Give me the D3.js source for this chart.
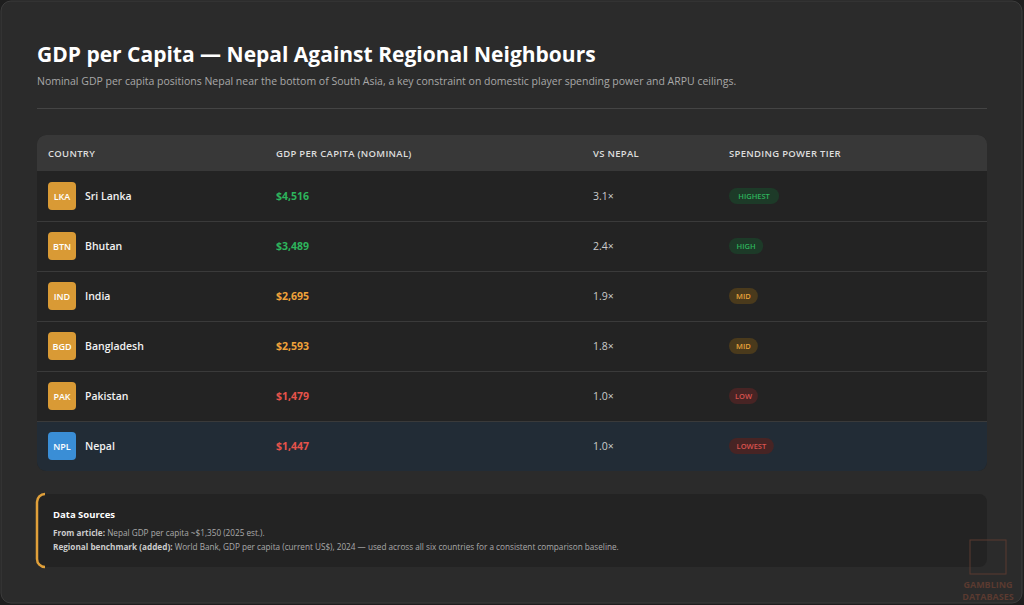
<!DOCTYPE html>
<html><head><meta charset="utf-8">
<script src="https://cdn.jsdelivr.net/npm/d3@7"></script>
<style>html,body{margin:0;padding:0;background:#1e1e1e;}svg{display:block;font-family:"Open Sans","Noto Sans",sans-serif;}</style>
</head><body><svg id="c" width="1024" height="605"></svg>
<script>
const codes=["LKA","BTN","IND","BGD","PAK","NPL"];
const countries=["Sri Lanka","Bhutan","India","Bangladesh","Pakistan","Nepal"];
const gdp=[4516,3489,2695,2593,1479,1447];
const vsNepal=["3.1×","2.4×","1.9×","1.8×","1.0×","1.0×"];
const tiers=["HIGHEST","HIGH","MID","MID","LOW","LOWEST"];
const headers=["COUNTRY","GDP PER CAPITA (NOMINAL)","VS NEPAL","SPENDING POWER TIER"];
const tierColor={HIGHEST:["#2db45c","#1d3a28"],HIGH:["#2db45c","#1d3a28"],MID:["#e8a33a","#4a3a1c"],LOW:["#d9534f","#472424"],LOWEST:["#d9534f","#472424"]};
const valColor=v=>v>3000?"#2db45c":v>2000?"#f0a23a":"#e5534b";

const svg=d3.select("#c");
svg.append("rect").attr("x",1).attr("y",1).attr("width",1021).attr("height",602).attr("rx",10).attr("fill","#2b2b2b").attr("stroke","#3c3c3c");
svg.append("text").attr("x",37).attr("y",62).attr("fill","#fff").attr("font-size",21).attr("font-weight",700).text("GDP per Capita — Nepal Against Regional Neighbours");
svg.append("text").attr("x",37).attr("y",85).attr("fill","#a8a8a8").attr("font-size",10.5).text("Nominal GDP per capita positions Nepal near the bottom of South Asia, a key constraint on domestic player spending power and ARPU ceilings.");
svg.append("line").attr("x1",37).attr("x2",987).attr("y1",108.5).attr("y2",108.5).attr("stroke","#444");

const colX=[48,276,593,729];
const y=d3.scaleBand().domain(d3.range(codes.length)).range([171,471]);
const g=svg.append("g");
g.append("rect").attr("x",37).attr("y",135).attr("width",950).attr("height",336).attr("rx",9).attr("fill","#232323");
g.append("path").attr("d","M37,171V144a9,9 0 0 1 9,-9H978a9,9 0 0 1 9,9V171Z").attr("fill","#383838");
headers.forEach((h,i)=>g.append("text").attr("x",colX[i]).attr("y",157).attr("fill","#ddd").attr("font-size",9.5).attr("font-weight",600).attr("letter-spacing",0.3).text(h));

const rows=g.selectAll(".r").data(codes).join("g").attr("transform",(d,i)=>`translate(0,${y(i)})`);
rows.each(function(d,i){
  const r=d3.select(this), h=y.bandwidth();
  if(d==="NPL") r.append("path").attr("d",`M37,0H987V${h-9}a9,9 0 0 1 -9,9H46a9,9 0 0 1 -9,-9Z`).attr("fill","#222c36");
  if(i>0) r.append("line").attr("x1",37).attr("x2",987).attr("y1",0.5).attr("y2",0.5).attr("stroke","#3a3a3a");
  r.append("rect").attr("x",48).attr("y",h/2-14).attr("width",28).attr("height",28).attr("rx",4).attr("fill",d==="NPL"?"#3a8ed6":"#d99a35");
  r.append("text").attr("x",62).attr("y",h/2+3.5).attr("text-anchor","middle").attr("fill","#fff").attr("font-size",9).attr("font-weight",600).text(d);
  r.append("text").attr("x",85).attr("y",h/2+4).attr("fill","#f2f2f2").attr("font-size",10.5).attr("font-weight",600).text(countries[i]);
  r.append("text").attr("x",276).attr("y",h/2+4).attr("fill",valColor(gdp[i])).attr("font-size",10.5).attr("font-weight",700).text("$"+d3.format(",")(gdp[i]));
  r.append("text").attr("x",593).attr("y",h/2+4).attr("fill","#ccc").attr("font-size",10.5).text(vsNepal[i]);
  const t=tiers[i], tw=t.length*5.3+13;
  r.append("rect").attr("x",729).attr("y",h/2-8).attr("width",tw).attr("height",16).attr("rx",8).attr("fill",tierColor[t][1]);
  r.append("text").attr("x",729+tw/2).attr("y",h/2+3).attr("text-anchor","middle").attr("fill",tierColor[t][0]).attr("font-size",7.5).attr("font-weight",600).text(t);
});

const s=svg.append("g");
s.append("rect").attr("x",37).attr("y",494).attr("width",950).attr("height",73).attr("rx",8).attr("fill","#232323");
s.append("path").attr("d","M45,494a8,8 0 0 0 -8,8V559a8,8 0 0 0 8,8").attr("fill","none").attr("stroke","#e0a03a").attr("stroke-width",2.5);
s.append("text").attr("x",53).attr("y",518).attr("fill","#fff").attr("font-size",9.5).attr("font-weight",700).text("Data Sources");
const t1=s.append("text").attr("x",53).attr("y",536).attr("fill","#aaa").attr("font-size",8.2);
t1.append("tspan").attr("font-weight",700).attr("fill","#ccc").text("From article: ");
t1.append("tspan").text("Nepal GDP per capita ~$1,350 (2025 est.).");
const t2=s.append("text").attr("x",53).attr("y",550).attr("fill","#aaa").attr("font-size",8.2);
t2.append("tspan").attr("font-weight",700).attr("fill","#ccc").text("Regional benchmark (added): ");
t2.append("tspan").text("World Bank, GDP per capita (current US$), 2024 — used across all six countries for a consistent comparison baseline.");
svg.append("rect").attr("x",970).attr("y",540).attr("width",36).attr("height",34).attr("fill","none").attr("stroke","#5a3a30");
svg.append("text").attr("x",988).attr("y",588).attr("text-anchor","middle").attr("fill","#5a3a30").attr("font-size",9).attr("font-weight",700).text("GAMBLING");
svg.append("text").attr("x",988).attr("y",600).attr("text-anchor","middle").attr("fill","#5a3a30").attr("font-size",9).attr("font-weight",700).text("DATABASES");
</script></body></html>
